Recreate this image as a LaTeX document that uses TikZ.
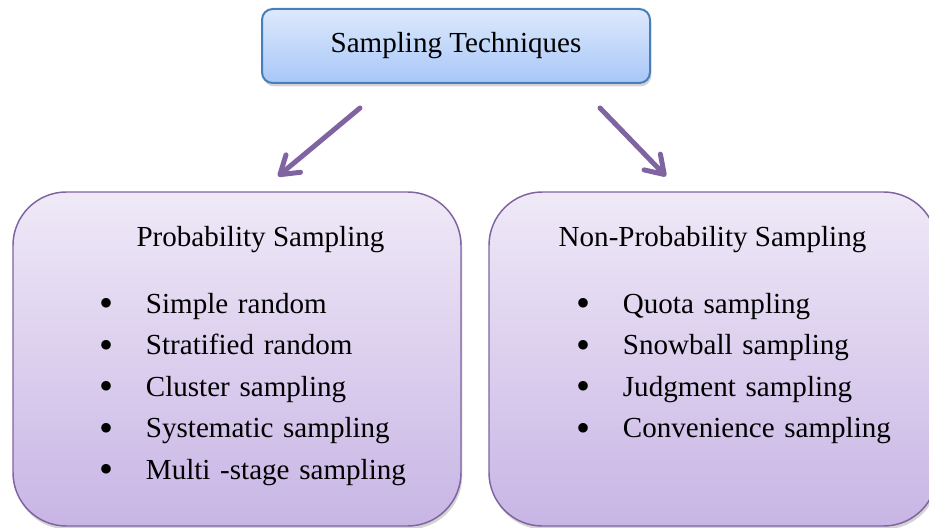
\documentclass[tikz,border=0pt]{standalone}
\usepackage{fontspec}
\setmainfont{Liberation Serif}
\usepackage{xcolor}
\usetikzlibrary{arrows.meta, positioning, shadows}

\definecolor{techTop}{HTML}{DDE9FC}
\definecolor{techBottom}{HTML}{A8C7F8}
\definecolor{techBorder}{HTML}{4A7EBB}
\definecolor{groupTop}{HTML}{EFE9F7}
\definecolor{groupBottom}{HTML}{C8B5E5}
\definecolor{groupBorder}{HTML}{8064A2}

\newcommand{\listdot}{\makebox[35pt][l]{\raisebox{-2.6pt}{\fontsize{30pt}{30pt}\selectfont\textbullet}}}

\begin{document}
\begin{tikzpicture}[
    x=0.75pt, y=-0.75pt,
    font=\fontsize{21.8pt}{26pt}\selectfont,
    topbox/.style={draw=techBorder, line width=1.5pt, rounded corners=8pt,
        top color=techTop, bottom color=techBottom,
        minimum width=291pt, minimum height=55.5pt,
        drop shadow={opacity=0.35, shadow xshift=1pt, shadow yshift=-2.5pt}},
    groupbox/.style={draw=groupBorder, line width=1.1pt, rounded corners=40pt,
        top color=groupTop, bottom color=groupBottom,
        minimum width=336pt, minimum height=250.5pt,
        drop shadow={opacity=0.35, shadow xshift=1pt, shadow yshift=-2.5pt}},
    item/.style={text width=300pt, align=left, inner sep=0pt,
        minimum height=30.75pt, text height=15pt, text depth=5pt},
    link/.style={draw=groupBorder, line width=3.75pt, line cap=round,
        -{Straight Barb[length=13pt, width=17pt, round]}}
]
    \useasboundingbox (0,0) rectangle (929,528);
    \clip (0,0) rectangle (929,528);

    % boxes
    \node[topbox] (tech) at (456,46) {Sampling Techniques};
    \node[groupbox] (prob) at (237,359) {};
    \node[groupbox] (nonprob) at (713,359) {};

    % left list
    \node[anchor=base] (probtitle) at (260.5,246) {Probability Sampling};
    \node[item, anchor=base west] (p1) at (99,313) {\listdot Simple random};
    \node[item, below=0pt of p1] (p2) {\listdot Stratified random};
    \node[item, below=0pt of p2] (p3) {\listdot Cluster sampling};
    \node[item, below=0pt of p3] (p4) {\listdot Systematic sampling};
    \node[item, below=0pt of p4] (p5) {\listdot Multi -stage sampling};

    % right list
    \node[anchor=base] (nonprobtitle) at (712.5,246) {Non-Probability Sampling};
    \node[item, anchor=base west] (n1) at (576,313) {\listdot Quota sampling};
    \node[item, below=0pt of n1] (n2) {\listdot Snowball sampling};
    \node[item, below=0pt of n2] (n3) {\listdot Judgment sampling};
    \node[item, below=0pt of n3] (n4) {\listdot Convenience sampling};

    % arrows
    \draw[link] ([shift={(-96,24)}]tech.south) -- ([shift={(41,-15)}]prob.north);
    \draw[link] ([shift={(144,24)}]tech.south) -- ([shift={(-47,-15)}]nonprob.north);

\end{tikzpicture}
\end{document}
